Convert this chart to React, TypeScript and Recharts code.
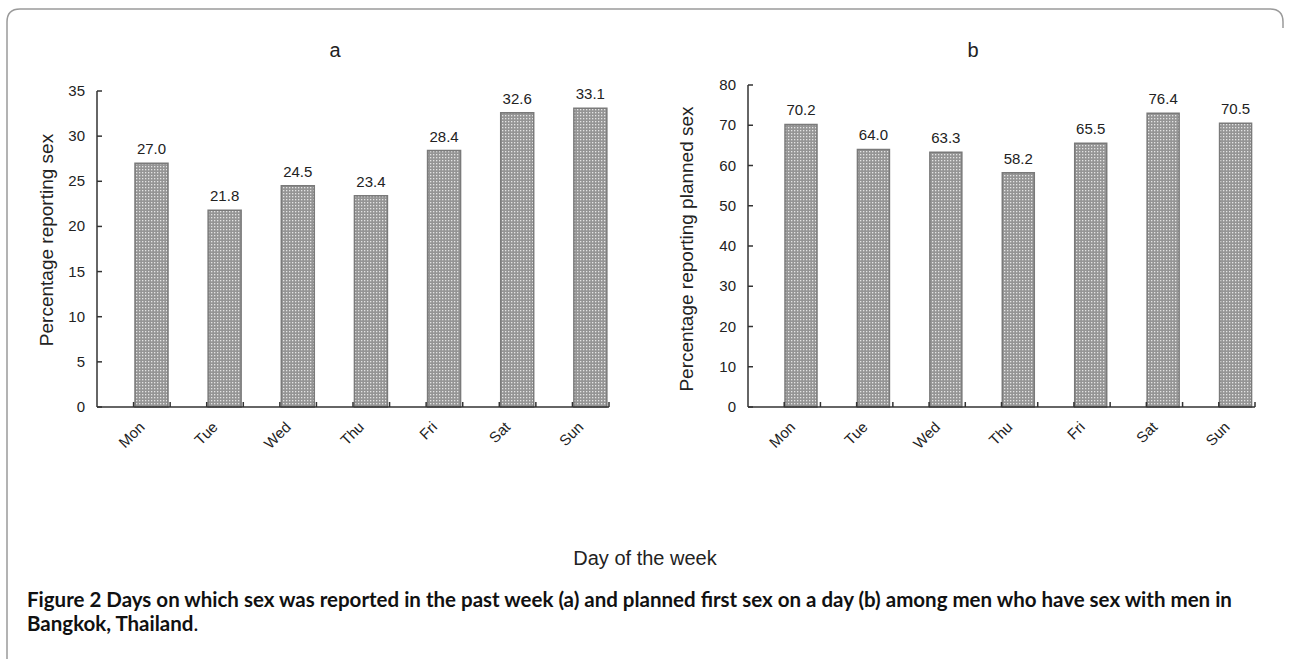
import React from "react";
import { BarChart, Bar, XAxis, YAxis, LabelList } from "recharts";

const days = ["Mon", "Tue", "Wed", "Thu", "Fri", "Sat", "Sun"];
// panel a: percentage reporting sex
const reportedValues = [27.0, 21.8, 24.5, 23.4, 28.4, 32.6, 33.1];
const reportedLabels = ["27.0", "21.8", "24.5", "23.4", "28.4", "32.6", "33.1"];
// panel b: percentage reporting planned sex (bar heights as drawn, labels as printed)
const plannedValues = [70.2, 64.0, 63.3, 58.2, 65.5, 73.0, 70.5];
const plannedLabels = ["70.2", "64.0", "63.3", "58.2", "65.5", "76.4", "70.5"];
const ticksA = [0, 5, 10, 15, 20, 25, 30, 35];
const ticksB = [0, 10, 20, 30, 40, 50, 60, 70, 80];

const dataA = days.map((d, i) => ({ day: d, value: reportedValues[i], label: reportedLabels[i] }));
const dataB = days.map((d, i) => ({ day: d, value: plannedValues[i], label: plannedLabels[i] }));

const FONT = "'Liberation Sans', Arial, Helvetica, sans-serif";
const AXIS = "#333";

const makeXTick = (fallbackHalf: number) => (props: any) => {
  const { x, y, payload } = props;
  const half = typeof payload?.offset === "number" && payload.offset > 0 ? payload.offset : fallbackHalf;
  const lx = x + 12;
  const ly = y + 21;
  return (
    <g>
      <line x1={x} y1={y} x2={x} y2={y - 5} stroke={AXIS} strokeWidth={1.5} />
      <line x1={x + half} y1={y} x2={x + half} y2={y - 5} stroke={AXIS} strokeWidth={1.5} />
      <text
        x={lx}
        y={ly}
        transform={`rotate(-45 ${lx} ${ly})`}
        textAnchor="end"
        fontSize={15}
        fontFamily={FONT}
        fill="#222"
      >
        {payload.value}
      </text>
    </g>
  );
};

const YTick = (props: any) => {
  const { x, y, payload } = props;
  return (
    <g>
      <line x1={x} y1={y} x2={x + 5} y2={y} stroke={AXIS} strokeWidth={1.5} />
      <text x={x - 12} y={y + 5} textAnchor="end" fontSize={15} fontFamily={FONT} fill="#222">
        {payload.value}
      </text>
    </g>
  );
};

const Panel = ({ data, ticks, max, width, margin, half }: any) => (
  <BarChart
    width={width}
    height={480}
    data={data}
    margin={margin}
    barCategoryGap={3}
    barGap={2}
  >
    <XAxis
      dataKey="day"
      axisLine={{ stroke: AXIS, strokeWidth: 1.5 }}
      tickLine={false}
      tickSize={0}
      tickMargin={0}
      height={60}
      interval={0}
      tick={makeXTick(half)}
    />
    <YAxis
      domain={[0, max]}
      ticks={ticks}
      interval={0}
      width={60}
      axisLine={{ stroke: AXIS, strokeWidth: 1.5 }}
      tickLine={false}
      tickSize={0}
      tickMargin={0}
      tick={<YTick />}
    />
    <Bar dataKey="spacer" fill="none" isAnimationActive={false} legendType="none" />
    <Bar dataKey="value" fill="url(#dots)" stroke="#7a7a7a" strokeWidth={1.5} isAnimationActive={false}>
      <LabelList dataKey="label" position="top" offset={9} fontSize={15} fontFamily={FONT} fill="#222" />
    </Bar>
  </BarChart>
);

export default function App() {
  return (
    <div style={{ position: "absolute", left: 0, top: 0, width: 1289, height: 659, background: "#fff", overflow: "hidden" }}>
      <svg width={0} height={0} style={{ position: "absolute" }}>
        <defs>
          <pattern id="dots" width="3" height="3" patternUnits="userSpaceOnUse">
            <rect width="3" height="3" fill="#959595" />
            <rect x="1" y="1" width="1.3" height="1.3" fill="#e4e4e4" />
          </pattern>
        </defs>
      </svg>
      <div style={{ position: "absolute", left: 0, top: 0 }}>
        <Panel
          data={dataA}
          ticks={ticksA}
          max={35}
          width={640}
          margin={{ top: 91, right: 31, bottom: 13, left: 37 }}
          half={36.6}
        />
      </div>
      <div style={{ position: "absolute", left: 640, top: 0 }}>
        <Panel
          data={dataB}
          ticks={ticksB}
          max={80}
          width={649}
          margin={{ top: 85, right: 34, bottom: 13, left: 48 }}
          half={36.2}
        />
      </div>
      <svg width={1289} height={659} style={{ position: "absolute", left: 0, top: 0, pointerEvents: "none" }}>
        <path
          d="M 7 659 L 7 22 Q 7 9 20 9 L 1270 9 Q 1283 9 1283 22 L 1283 28"
          fill="none"
          stroke="#9a9a9a"
          strokeWidth={1.5}
        />
        <text x={335} y={57} textAnchor="middle" fontSize={20} fontFamily={FONT} fill="#222">a</text>
        <text x={973} y={57} textAnchor="middle" fontSize={20} fontFamily={FONT} fill="#222">b</text>
        <text
          x={53}
          y={240}
          transform="rotate(-90 53 240)"
          textAnchor="middle"
          fontSize={19}
          fontFamily={FONT}
          fill="#222"
        >
          Percentage reporting sex
        </text>
        <text
          x={693}
          y={249}
          transform="rotate(-90 693 249)"
          textAnchor="middle"
          fontSize={19}
          fontFamily={FONT}
          fill="#222"
        >
          Percentage reporting planned sex
        </text>
        <text x={645} y={565} textAnchor="middle" fontSize={20} fontFamily={FONT} fill="#222">
          Day of the week
        </text>
      </svg>
      <div
        style={{
          position: "absolute",
          left: 27,
          top: 587,
          fontFamily: "Lato, 'Open Sans', sans-serif",
          fontWeight: 700,
          fontSize: 20.5,
          lineHeight: "24px",
          color: "#111",
          whiteSpace: "nowrap",
        }}
      >
        <div>
          Figure 2 Days on which sex was reported in the past week (a) and planned first sex on a day (b) among men who have sex with men in
        </div>
        <div>
          Bangkok, Thailand<span style={{ fontWeight: 400 }}>.</span>
        </div>
      </div>
    </div>
  );
}
